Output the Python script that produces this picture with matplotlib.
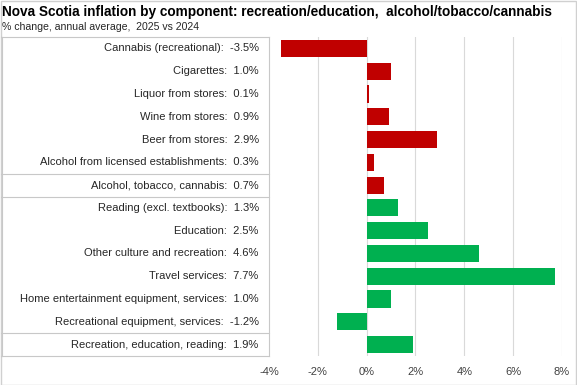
import matplotlib
matplotlib.use('Agg')
import matplotlib.pyplot as plt
from matplotlib.lines import Line2D
from matplotlib.patches import Rectangle

plt.rcParams['font.family'] = ['Liberation Sans', 'DejaVu Sans']

labels = ['Cannabis (recreational)', 'Cigarettes', 'Liquor from stores', 'Wine from stores',
          'Beer from stores', 'Alcohol from licensed establishments', 'Alcohol, tobacco, cannabis',
          'Reading (excl. textbooks)', 'Education', 'Other culture and recreation',
          'Travel services', 'Home entertainment equipment, services',
          'Recreational equipment, services', 'Recreation, education, reading']
values = [-3.5, 1.0, 0.1, 0.9, 2.9, 0.3, 0.7, 1.3, 2.5, 4.6, 7.7, 1.0, -1.2, 1.9]
groups = ['alc'] * 7 + ['rec'] * 7
xticks = [-4, -2, 0, 2, 4, 6, 8]

red = '#C00000'
green = '#00B050'
colors = [red if g == 'alc' else green for g in groups]

W, H = 577, 385
fig = plt.figure(figsize=(W / 100, H / 100), dpi=100)
fig.add_artist(Rectangle((0.5 / W, 0.5 / H), 1 - 1.5 / W, 1 - 1.5 / H, transform=fig.transFigure,
                         fill=False, edgecolor='#d0d0d0', lw=1))

x0, x1, ytop, ybot = 269, 562, 37, 356
ax = fig.add_axes([x0 / W, 1 - ybot / H, (x1 - x0) / W, (ybot - ytop) / H])

n = len(values)
ypos = list(range(n))
ax.barh(ypos, values, height=0.75, color=colors, zorder=3)
ax.set_ylim(n - 0.5, -0.5)
ax.set_xlim(-4, 8)
ax.set_xticks(xticks)
ax.set_xticklabels(['%d%%' % t for t in xticks], fontsize=8, color='#404040')
ax.set_yticks([])
ax.tick_params(axis='x', length=0, pad=8)
for s in ax.spines.values():
    s.set_visible(False)
for t in xticks[1:]:
    ax.axvline(t, color='#d9d9d9', lw=0.8, zorder=1)

# label table on the left
for i, (lab, v) in enumerate(zip(labels, values)):
    ax.text(-0.035, i, '%s:  %.1f%%' % (lab, v), transform=ax.get_yaxis_transform(),
            ha='right', va='center', fontsize=8, color='#262626')

lc = '#c8c8c8'
def fx(px):
    return px / W
def fy(py):
    return 1 - py / H
row = (ybot - ytop) / n
for k in [0, 6, 7, 13, 14]:
    yy = ytop + k * row
    fig.add_artist(Line2D([fx(1), fx(x0)], [fy(yy), fy(yy)], color=lc, lw=0.8,
                          transform=fig.transFigure))
for xx in [1.5, x0]:
    fig.add_artist(Line2D([fx(xx), fx(xx)], [fy(ytop), fy(ybot)], color=lc, lw=0.8,
                          transform=fig.transFigure))

fig.text(2 / W, fy(12), 'Nova Scotia inflation by component: recreation/education,  alcohol/tobacco/cannabis',
         fontsize=9.8, fontweight='bold', va='center', ha='left', color='black')
fig.text(2 / W, fy(26.5), '% change, annual average,  2025 vs 2024',
         fontsize=7.6, va='center', ha='left', color='#262626')

fig.savefig('out.png', dpi=100)
